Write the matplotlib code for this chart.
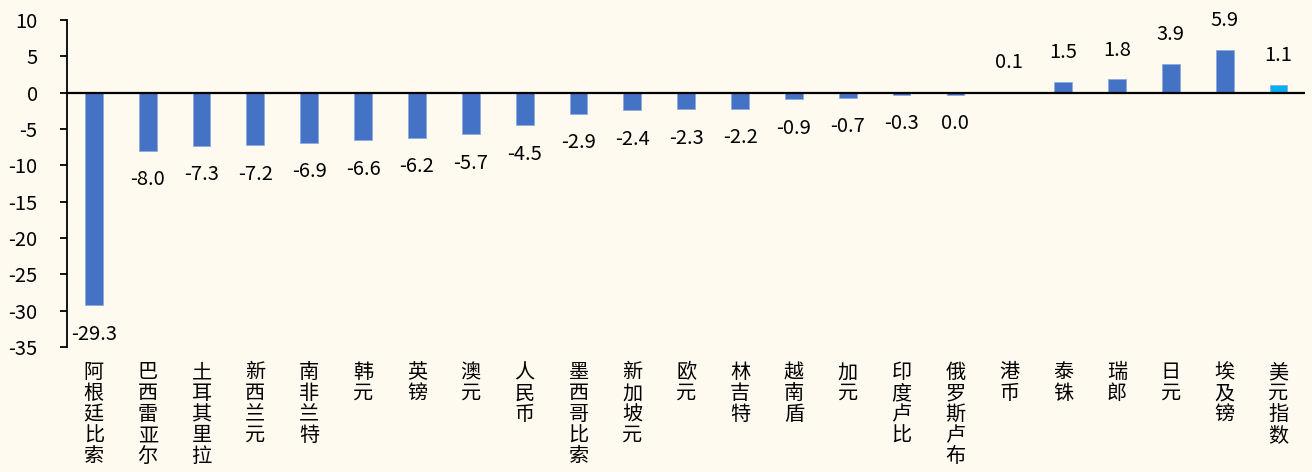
import numpy as np
import matplotlib
matplotlib.use('Agg')
import matplotlib.pyplot as plt

plt.rcParams['font.family'] = ['Noto Sans CJK SC', 'DejaVu Sans']
plt.rcParams['axes.unicode_minus'] = False

# 货币名称与涨跌幅（%）
currencies = ['阿根廷比索', '巴西雷亚尔', '土耳其里拉', '新西兰元', '南非兰特', '韩元', '英镑',
              '澳元', '人民币', '墨西哥比索', '新加坡元', '欧元', '林吉特', '越南盾', '加元',
              '印度卢比', '俄罗斯卢布', '港币', '泰铢', '瑞郎', '日元', '埃及镑', '美元指数']
values = [-29.3, -8.0, -7.3, -7.2, -6.9, -6.6, -6.2, -5.7, -4.5, -2.9, -2.4, -2.3, -2.2,
          -0.9, -0.7, -0.3, -0.3, 0.1, 1.5, 1.8, 3.9, 5.9, 1.1]
value_labels = ['-29.3', '-8.0', '-7.3', '-7.2', '-6.9', '-6.6', '-6.2', '-5.7', '-4.5', '-2.9',
                '-2.4', '-2.3', '-2.2', '-0.9', '-0.7', '-0.3', '0.0', '0.1', '1.5', '1.8',
                '3.9', '5.9', '1.1']

bg = '#FEFAF0'
fig = plt.figure(figsize=(13.12, 4.72), dpi=100, facecolor=bg)
ax = fig.add_axes([0.051, 0.265, 0.944, 0.693], facecolor=bg)

x = np.arange(len(currencies))
colors = ['#4472C4'] * (len(currencies) - 1) + ['#00B0F0']
ax.bar(x, values, width=0.33, color=colors, edgecolor='#8FAADC', linewidth=0.6, zorder=2)
ax.axhline(0, color='black', lw=1.6, zorder=3)

# 数据标签：正值在柱顶上方，负值在柱底下方
for xi, v, t in zip(x, values, value_labels):
    off = 21 if v > 0 else -21
    ax.annotate(t, (xi, v), xytext=(0, off), textcoords='offset points',
                ha='center', va='center', fontsize=14.5)

ax.set_xlim(-0.5, len(currencies) - 0.5)
ax.set_ylim(-35, 10)
ax.set_yticks(np.arange(-35, 11, 5))
ax.tick_params(axis='y', labelsize=14.5, length=5, width=1.3, pad=16)
ax.set_xticks(x)
ax.set_xticklabels(['\n'.join(c) for c in currencies], fontsize=14.5, linespacing=1.0, va='top')
ax.tick_params(axis='x', length=0, pad=11)

for s in ['top', 'right', 'bottom']:
    ax.spines[s].set_visible(False)
ax.spines['left'].set_linewidth(1.3)

fig.savefig('out.png', dpi=100, facecolor=bg)
